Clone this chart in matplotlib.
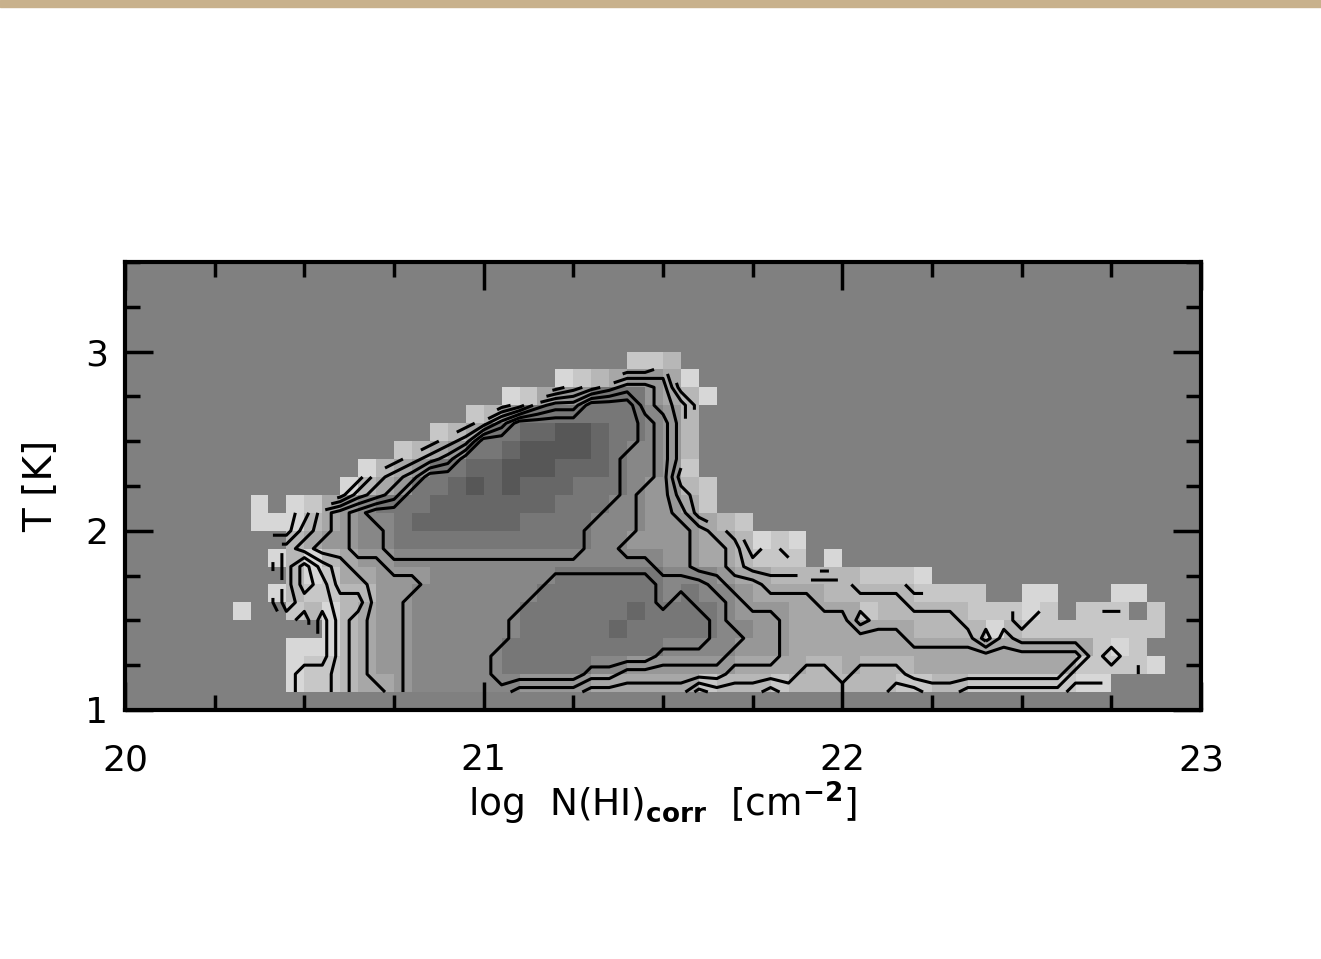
import numpy as np
import matplotlib
matplotlib.use('Agg')
import matplotlib.pyplot as plt
from matplotlib.colors import ListedColormap, BoundaryNorm
from matplotlib.patches import Rectangle

# bins of the 2D histogram : log N(HI) by 0.05 dex, T by 0.1
x_edges = np.round(np.arange(20.0, 23.0001, 0.05), 3)
y_edges = np.round(np.arange(1.0, 3.5001, 0.1), 3)

# grey level of the filled cells, 1 = lightest ... 9 = darkest, '.' = empty
# (row, first column, cells)
rows = [
    (19, 28, "223"),
    (18, 24, "12345541"),
    (17, 21, "124557775431"),
    (16, 19, "2357777777653"),
    (15, 17, "234778899877653"),
    (14, 15, "23457789999876653"),
    (13, 13, "1345778899988876652"),
    (12, 12, "134577898988877765532"),
    (11, 7, "1.124567778888888777665542"),
    (10, 7, "1113456678888887777666555432"),
    (9, 9, "34556677777777777665555443121"),
    (8, 8, "131345566666666666666655443222.1"),
    (7, 9, "312445556666666777777666544333332221"),
    (6, 8, "1322335566666667777777676654444333332222..11...11"),
    (5, 6, "1..2313455666666777777877776555444423333322212.222.2"),
    (4, 11, "13455666666777778777776655444444433331322222222"),
    (3, 9, "111345566666777777777666655544444444444444444212"),
    (2, 9, "1223455666667777766555555444433433344444444422221"),
    (1, 9, "1223445666666555544444423332333333223322222211"),
]

contour_levels = [1.5, 2.5, 3.5, 4.5, 5.5, 6.4]

greys = [(215 - 16 * k) / 255 for k in range(9)]
cmap = ListedColormap([(g, g, g) for g in greys])
norm = BoundaryNorm(np.arange(0.5, 10.5, 1), cmap.N)

Z = np.zeros((len(y_edges) - 1, len(x_edges) - 1))
for j, i0, cells in rows:
    for k, c in enumerate(cells):
        if c != '.':
            Z[j, i0 + k] = int(c)
Zm = np.ma.masked_equal(Z, 0)

plt.rcParams['font.family'] = ['DejaVu Sans']
plt.rcParams['mathtext.fontset'] = 'dejavusans'

fig = plt.figure(figsize=(13.21, 9.59), dpi=100)
fig.add_artist(Rectangle((0, 1 - 7 / 959), 1, 7 / 959, transform=fig.transFigure,
                         color='#c8b18c', zorder=0))
ax = fig.add_axes([0.0946, 0.2597, 0.8146, 0.4672])
ax.set_facecolor('#808080')

ax.pcolormesh(x_edges, y_edges, Zm, cmap=cmap, norm=norm)
# contours drawn on the lower-left corner of each bin, empty bins left out
ax.contour(x_edges[:-1], y_edges[:-1], Zm, levels=contour_levels,
           colors='k', linewidths=2.2)

ax.set_xlim(20, 23)
ax.set_ylim(1, 3.5)
ax.set_xticks([20, 21, 22, 23])
ax.set_yticks([1, 2, 3])
ax.set_xticks(np.arange(20, 23.01, 0.25), minor=True)
ax.set_yticks(np.arange(1, 3.51, 0.25), minor=True)
ax.tick_params(which='both', direction='in', top=True, right=True, width=2.5)
ax.tick_params(which='major', length=20, labelsize=26)
ax.tick_params(axis='x', which='major', pad=24)
ax.tick_params(axis='y', which='major', pad=12)
ax.tick_params(which='minor', length=11)
for s in ax.spines.values():
    s.set_linewidth(3)

ax.set_xlabel(r'log  N(HI)$_{\mathbf{corr}}$  [cm$^{\mathbf{-2}}$]', fontsize=27, labelpad=2)
ax.set_ylabel('T [K]', fontsize=28, labelpad=18)

fig.savefig('out.png', dpi=100)
